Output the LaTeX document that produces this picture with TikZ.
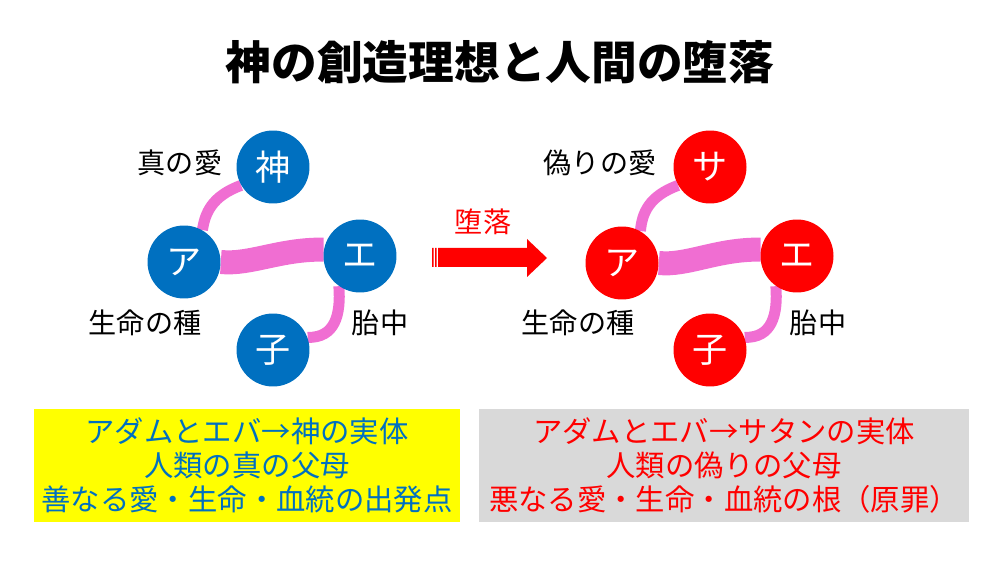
\documentclass[tikz,border=0pt]{standalone}
\usepackage{fontspec}
\setmainfont{Noto Sans CJK JP}
\usetikzlibrary{backgrounds}
\definecolor{godblue}{HTML}{0070C0}
\definecolor{fallred}{HTML}{FF0000}
\definecolor{bondpink}{HTML}{F06ED2}
\definecolor{boxyellow}{HTML}{FFFF00}
\definecolor{boxgray}{HTML}{D9D9D9}

\begin{document}
\begin{tikzpicture}[x=0.02cm, y=-0.02cm,
    person/.style={circle, minimum size=1.46cm, inner sep=0pt, text=white, font=\fontsize{20}{24}\selectfont},
    tag/.style={font=\fontsize{16}{19}\selectfont},
    bond/.style={draw=bondpink, line width=0.22cm},
    thickbond/.style={draw=bondpink, line width=0.48cm},
    note/.style={align=center, minimum height=2.26cm, font=\fontsize{16.7}{19.5}\selectfont}]
    \useasboundingbox (0,0) rectangle (1000,563);

    % Title
    \node[font=\fontsize{26}{30}\selectfont\bfseries] (title) at (500,62) {神の創造理想と人間の堕落};

    % Ideal of creation
    \node[person, fill=godblue] (god) at (273,167) {神};
    \node[person, fill=godblue] (adamL) at (184,262) {ア};
    \node[person, fill=godblue] (eveL) at (360,256) {エ};
    \node[person, fill=godblue] (childL) at (273,350) {子};
    \node[tag] (loveL) at (180,163) {真の愛};
    \node[tag] (seedL) at (145,323) {生命の種};
    \node[tag] (wombL) at (380,323) {胎中};

    % Fall
    \node[person, fill=fallred] (satan) at (710,167) {サ};
    \node[person, fill=fallred] (adamR) at (622,263) {ア};
    \node[person, fill=fallred] (eveR) at (797,256) {エ};
    \node[person, fill=fallred] (childR) at (710,350) {子};
    \node[tag] (loveR) at (600,163) {偽りの愛};
    \node[tag] (seedR) at (578,323) {生命の種};
    \node[tag] (wombR) at (818,323) {胎中};

    % Bonds
    \begin{scope}[on background layer]
        \draw[bond] (god.210) .. controls (212,196) and (205,213) .. (adamL.60);
        \draw[thickbond] (adamL.east) .. controls (250,265) and (280,249) .. (eveL.170);
        \draw[bond] (eveL.235) .. controls (341,315) and (335,338) .. (childL.20);
        \draw[bond] (satan.210) .. controls (649,196) and (642,213) .. (adamR.60);
        \draw[thickbond] (adamR.east) .. controls (687,266) and (717,249) .. (eveR.170);
        \draw[bond] (eveR.235) .. controls (778,315) and (772,338) .. (childR.20);
    \end{scope}

    % Arrow
    \node[tag, text=fallred] (fall) at (483,222) {堕落};
    \fill[fallred] (432,248) rectangle (433.5,267) (435,248) rectangle (436.5,267)
        (438,248) -- (527,248) -- (527,239) -- (547,258) -- (527,277) -- (527,267) -- (438,267) -- cycle;

    % Boxes
    \node[note, fill=boxyellow, text=godblue, minimum width=8.52cm] (goodbox) at (247,465.5)
        {アダムとエバ→神の実体\\人類の真の父母\\善なる愛・生命・血統の出発点};
    \node[note, fill=boxgray, text=fallred, minimum width=9.8cm] (evilbox) at (724,465.5)
        {アダムとエバ→サタンの実体\\人類の偽りの父母\\悪なる愛・生命・血統の根（原罪）};
\end{tikzpicture}
\end{document}
